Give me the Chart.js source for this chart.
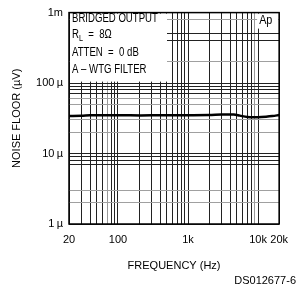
<!DOCTYPE html>
<html>
<head>
<meta charset="utf-8">
<script src="https://cdn.jsdelivr.net/npm/chart.js@4.4.1/dist/chart.umd.min.js"></script>
<style>
  html, body { margin: 0; padding: 0; background: #fff; }
  #wrap { width: 297px; height: 293px; position: relative; }
</style>
</head>
<body>
<div id="wrap"><canvas id="noiseChart"></canvas></div>
<script>
// Curva de ruído
const freqHz  = [20, 30, 40, 60, 100, 150, 300, 500, 1000, 2000, 3000, 4500, 5500, 7000, 10000, 13000, 16000, 20000];
const noiseUV = [34.0, 34.3, 34.8, 35.0, 35.0, 34.8, 34.8, 34.9, 35.0, 35.2, 35.8, 35.8, 34.5, 33.0, 32.8, 33.3, 34.0, 35.2];

// Eixos
const xGridHz = [20, 30, 40, 50, 60, 70, 80, 90, 100, 200, 300, 400, 500, 600, 700, 800, 900,
                 1000, 2000, 3000, 4000, 5000, 6000, 7000, 8000, 9000, 10000, 20000];
const xTickLabels = { 20: '20', 100: '100', 1000: '1k', 10000: '10k', 20000: '20k' };
const yGridUV = [1, 2, 3, 7, 8, 9, 10, 20, 30, 50, 60, 70, 80, 90, 100, 200, 400, 500, 800, 1000];
const yTickLabels = { 1: '1\u2009\u00b5', 10: '10\u2009\u00b5', 100: '100\u2009\u00b5', 1000: '1m' };

const notes = ['BRIDGED OUTPUT', 'R|L|  =  8\u03a9', 'ATTEN  =  0 dB', 'A \u2013 WTG FILTER'];

const FONT = "'Liberation Sans', Arial, sans-serif";

// Caixa de texto + moldura
const annotPlugin = {
    id: 'annot',
    beforeDatasetsDraw(chart) {
        const { ctx, chartArea: a } = chart;
        ctx.save();
        ctx.fillStyle = '#fff';
        ctx.fillRect(a.left + 1, a.top + 1, 97, 68);
        ctx.fillRect(a.right - 22, a.top + 1, 21, 15);
        ctx.fillStyle = '#000';
        ctx.textBaseline = 'middle';
        const rowsY = [19, 35, 53, 70];
        notes.forEach((t, i) => {
            ctx.save();
            ctx.translate(a.left + 3, rowsY[i]);
            ctx.scale(0.8, 1);
            ctx.font = '12px ' + FONT;
            if (t.indexOf('|') >= 0) {
                const parts = t.split('|');
                ctx.fillText(parts[0], 0, 0);
                let w = ctx.measureText(parts[0]).width;
                ctx.font = '9px ' + FONT;
                ctx.fillText(parts[1], w, 4);
                w += ctx.measureText(parts[1]).width;
                ctx.font = '12px ' + FONT;
                ctx.fillText(parts[2], w, 0);
            } else {
                ctx.fillText(t, 0, 0);
            }
            ctx.restore();
        });
        ctx.save();
        ctx.translate(a.right - 20, a.top + 8);
        ctx.scale(0.9, 1);
        ctx.font = '12px ' + FONT;
        ctx.fillText('Ap', 0, 0);
        ctx.restore();
        ctx.restore();
    },
    afterDatasetsDraw(chart) {
        const { ctx, chartArea: a } = chart;
        ctx.save();
        ctx.strokeStyle = '#000';
        ctx.lineWidth = 1.5;
        ctx.strokeRect(a.left, a.top, a.right - a.left, a.bottom - a.top);
        ctx.fillStyle = '#000';
        ctx.font = '11px ' + FONT;
        ctx.textAlign = 'right';
        ctx.textBaseline = 'middle';
        ctx.fillText('DS012677-6', 296, 281);
        ctx.restore();
    }
};

const grayX = [70, 9000];
const grayY = [2, 3, 20, 30, 50, 60, 200, 800];

new Chart(document.getElementById('noiseChart'), {
    type: 'line',
    data: {
        datasets: [{
            data: freqHz.map((f, i) => ({ x: f, y: noiseUV[i] })),
            borderColor: '#000',
            borderWidth: 2.5,
            pointRadius: 0,
            fill: false,
            tension: 0.3
        }]
    },
    options: {
        responsive: true,
        maintainAspectRatio: false,
        animation: false,
        layout: { padding: { top: 10, right: 13, left: 0, bottom: 0 } },
        plugins: { legend: { display: false }, tooltip: { enabled: false } },
        scales: {
            x: {
                type: 'logarithmic',
                min: 20, max: 20000,
                afterBuildTicks: s => { s.ticks = xGridHz.map(v => ({ value: v })); },
                afterFit: s => { s.height = 69; },
                grid: {
                    drawTicks: false,
                    color: c => grayX.includes(c.tick && c.tick.value) ? '#9a9a9a' : '#222',
                    lineWidth: 1
                },
                border: { display: false },
                ticks: {
                    autoSkip: false, maxRotation: 0, padding: 9, color: '#000',
                    font: { family: FONT, size: 11 },
                    callback: v => xTickLabels[v] || ''
                },
                title: {
                    display: true, text: 'FREQUENCY (Hz)', color: '#000',
                    font: { family: FONT, size: 11 },
                    padding: { top: 0, bottom: 20 }
                }
            },
            y: {
                type: 'logarithmic',
                min: 1, max: 1000,
                afterBuildTicks: s => { s.ticks = yGridUV.map(v => ({ value: v })); },
                afterFit: s => { s.width = 69; },
                grid: {
                    drawTicks: false,
                    color: c => grayY.includes(c.tick && c.tick.value) ? '#a0a0a0' : '#222',
                    lineWidth: 1
                },
                border: { display: false },
                ticks: {
                    autoSkip: false, padding: 6, color: '#000',
                    font: { family: FONT, size: 11 },
                    callback: v => yTickLabels[v] || ''
                },
                title: {
                    display: true, text: 'NOISE FLOOR (\u00b5V)', color: '#000',
                    font: { family: FONT, size: 11 },
                    padding: { top: 10, bottom: 0 }
                }
            }
        }
    },
    plugins: [annotPlugin]
});
</script>
</body>
</html>
